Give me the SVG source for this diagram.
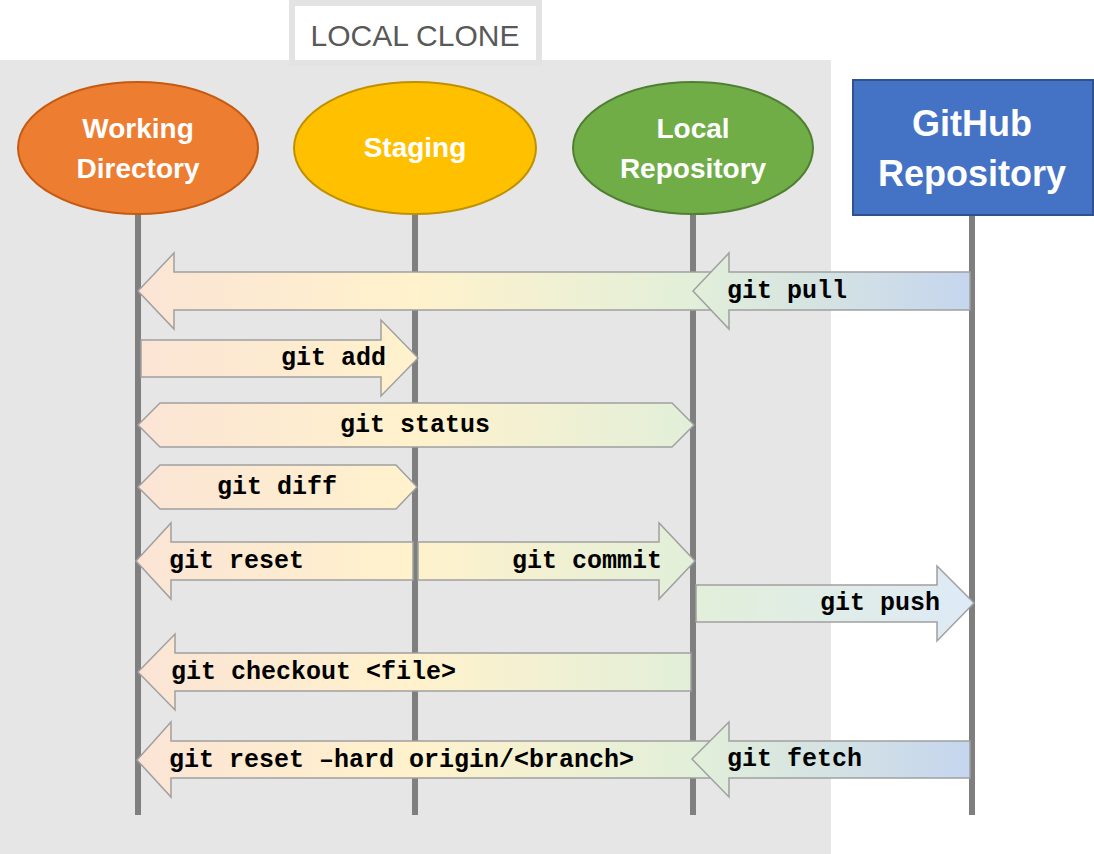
<svg xmlns="http://www.w3.org/2000/svg" width="1094" height="854" viewBox="0 0 1094 854">
<style>
.lbl{font-family:"Liberation Sans",Arial,sans-serif;font-weight:bold;fill:#ffffff;text-anchor:middle}
.cmd{font-family:"Liberation Mono","Courier New",monospace;font-weight:bold;font-size:25px;fill:#000000}
.arr{stroke:#a0a0a0;stroke-width:1.5;stroke-linejoin:miter}
.life{stroke:#7f7f7f;stroke-width:6;fill:none}
</style>
<defs>
<linearGradient id="g" gradientUnits="userSpaceOnUse" x1="138" y1="0" x2="972" y2="0">
<stop offset="0" stop-color="#fbe4d5"/>
<stop offset="0.332" stop-color="#fff2cc"/>
<stop offset="0.665" stop-color="#e2efd9"/>
<stop offset="1" stop-color="#c5d5ee"/>
</linearGradient>
<linearGradient id="gp" gradientUnits="userSpaceOnUse" x1="693" y1="0" x2="972" y2="0">
<stop offset="0" stop-color="#e2efd9"/>
<stop offset="1" stop-color="#deeaf6"/>
</linearGradient>
</defs>
<rect x="0" y="0" width="1094" height="854" fill="#ffffff"/>
<rect x="0" y="60" width="831" height="794" fill="#e6e6e6"/>
<g id="title">
<rect x="292" y="3" width="247" height="60" fill="#ffffff" stroke="#e3e3e3" stroke-width="6"/>
<text x="415" y="46" font-family="'Liberation Sans',Arial,sans-serif" font-size="30" fill="#595959" text-anchor="middle">LOCAL CLONE</text>
</g>
<g id="lifelines">
<line class="life" x1="138" y1="214" x2="138" y2="815"/>
<line class="life" x1="415" y1="214" x2="415" y2="815"/>
<line class="life" x1="693" y1="214" x2="693" y2="815"/>
<line class="life" x1="972" y1="215" x2="972" y2="815"/>
</g>
<g id="working-directory">
<ellipse cx="138" cy="148" rx="120" ry="66" fill="#ed7d31" stroke="#c55a11" stroke-width="2"/>
<text class="lbl" x="138" y="138" font-size="28">Working</text>
<text class="lbl" x="138" y="178" font-size="28">Directory</text>
</g>
<g id="staging">
<ellipse cx="415" cy="148" rx="121" ry="66" fill="#ffc000" stroke="#bf9000" stroke-width="2"/>
<text class="lbl" x="415" y="157" font-size="28">Staging</text>
</g>
<g id="local-repository">
<ellipse cx="693" cy="148" rx="120" ry="66" fill="#70ad47" stroke="#507e32" stroke-width="2"/>
<text class="lbl" x="693" y="138" font-size="28">Local</text>
<text class="lbl" x="693" y="178" font-size="28">Repository</text>
</g>
<g id="github-repository">
<rect x="853" y="80" width="240" height="135" fill="#4472c4" stroke="#2f528f" stroke-width="2"/>
<text class="lbl" x="972" y="136" font-size="36">GitHub</text>
<text class="lbl" x="972" y="186" font-size="36">Repository</text>
</g>
<g id="connectors">
<g id="git-pull">
<path class="arr" fill="url(#g)" d="M138,291 L174,253 L174,272 L715,272 L715,310 L174,310 L174,329 Z"/>
<path class="arr" fill="url(#g)" d="M693,291 L729,253 L729,272 L970,272 L970,310 L729,310 L729,329 Z"/>
<text class="cmd" x="727" y="298">git pull</text>
</g>
<g id="git-add">
<path class="arr" fill="url(#g)" d="M418,358 L381,320 L381,340 L141,340 L141,377 L381,377 L381,396 Z"/>
<text class="cmd" x="386" y="365" text-anchor="end">git add</text>
</g>
<g id="git-status">
<path class="arr" fill="url(#g)" d="M138,425 L160,403 L672,403 L694,425 L672,447 L160,447 Z"/>
<text class="cmd" x="415" y="432" text-anchor="middle">git status</text>
</g>
<g id="git-diff">
<path class="arr" fill="url(#g)" d="M138,487 L160,465 L396,465 L417,487 L396,509 L160,509 Z"/>
<text class="cmd" x="277" y="494" text-anchor="middle">git diff</text>
</g>
<g id="git-reset">
<path class="arr" fill="url(#g)" d="M136,561 L171,523 L171,542 L413,542 L413,580 L171,580 L171,599 Z"/>
<text class="cmd" x="169" y="568">git reset</text>
</g>
<g id="git-commit">
<path class="arr" fill="url(#g)" d="M695,561 L659,523 L659,542 L418,542 L418,580 L659,580 L659,599 Z"/>
<text class="cmd" x="662" y="568" text-anchor="end">git commit</text>
</g>
<g id="git-push">
<path class="arr" fill="url(#gp)" d="M974,603 L937,566 L937,585 L696,585 L696,622 L937,622 L937,641 Z"/>
<text class="cmd" x="940" y="610" text-anchor="end">git push</text>
</g>
<g id="git-checkout">
<path class="arr" fill="url(#g)" d="M138,672 L175,634 L175,653 L691,653 L691,691 L175,691 L175,710 Z"/>
<text class="cmd" x="171" y="679">git checkout &lt;file&gt;</text>
</g>
<g id="git-reset-hard">
<path class="arr" fill="url(#g)" d="M137,760 L171,722 L171,741 L715,741 L715,778 L171,778 L171,797 Z"/>
<text class="cmd" x="169" y="767">git reset –hard origin/&lt;branch&gt;</text>
</g>
<g id="git-fetch">
<path class="arr" fill="url(#g)" d="M692,759 L729,722 L729,741 L970,741 L970,778 L729,778 L729,797 Z"/>
<text class="cmd" x="727" y="766">git fetch</text>
</g>
</g>
</svg>
